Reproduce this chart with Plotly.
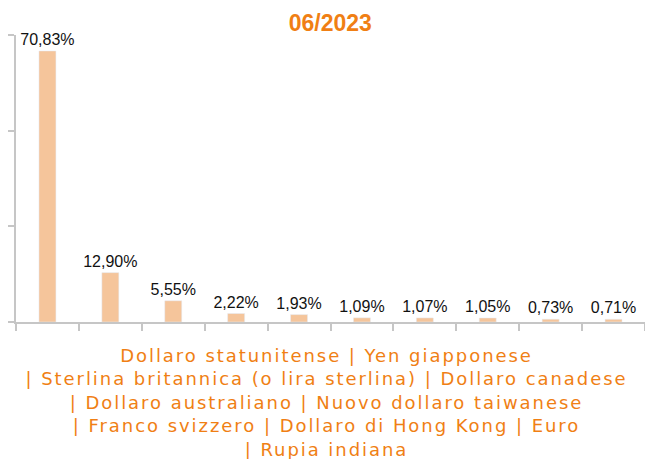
import plotly.graph_objects as go

categories = ["Dollaro statunitense", "Yen giapponese", "Sterlina britannica (o lira sterlina)",
              "Dollaro canadese", "Dollaro australiano", "Nuovo dollaro taiwanese",
              "Franco svizzero", "Dollaro di Hong Kong", "Euro", "Rupia indiana"]
values = [70.83, 12.90, 5.55, 2.22, 1.93, 1.09, 1.07, 1.05, 0.73, 0.71]
labels = [f"{v:.2f}%".replace(".", ",") for v in values]
title_text = "06/2023"
axis_title = ("Dollaro statunitense | Yen giapponese<br>| Sterlina britannica (o lira sterlina) | Dollaro canadese"
              "<br>| Dollaro australiano | Nuovo dollaro taiwanese<br>| Franco svizzero | Dollaro di Hong Kong | Euro"
              "<br>| Rupia indiana")

ORANGE = "#F07F14"
BAR = "#F5C59B"
AXIS = "#C6C6C6"

fig = go.Figure(go.Bar(
    x=categories, y=values, text=labels, textposition="outside", constraintext="none",
    textfont=dict(family="Liberation Sans, Arial", size=16, color="#111111"),
    marker_color=BAR, width=0.27, cliponaxis=False, hoverinfo="skip",
))

fig.update_layout(
    width=645, height=459,
    margin=dict(l=16, r=0, t=35, b=137),
    plot_bgcolor="white", paper_bgcolor="white",
    showlegend=False,
    title=dict(text=f"<b>{title_text}</b>", x=0.512, xanchor="center", y=0.951, yanchor="middle",
               font=dict(family="Liberation Sans, Arial", size=23, color=ORANGE)),
    xaxis=dict(showticklabels=False, showline=True, linecolor=AXIS, linewidth=2,
               ticks="outside", tickson="boundaries", ticklen=7, tickcolor=AXIS, tickwidth=2,
               showgrid=False),
    yaxis=dict(range=[0, 75], dtick=25, showticklabels=False, showline=True, linecolor=AXIS,
               linewidth=2, ticks="outside", ticklen=6, tickcolor=AXIS, tickwidth=2,
               showgrid=False, zeroline=False),
    annotations=[dict(text=axis_title, xref="paper", yref="paper", x=0.493, y=-0.072,
                      xanchor="center", yanchor="top", showarrow=False, align="center",
                      font=dict(family="DejaVu Sans, Verdana", size=18, color=ORANGE))],
)

post = """
document.body.style.margin = '0';
document.querySelectorAll('.annotation-text').forEach(function(el){ el.style.letterSpacing = '1.95px'; });
"""

fig.write_html("out.html", post_script=post, config={"displayModeBar": False})
